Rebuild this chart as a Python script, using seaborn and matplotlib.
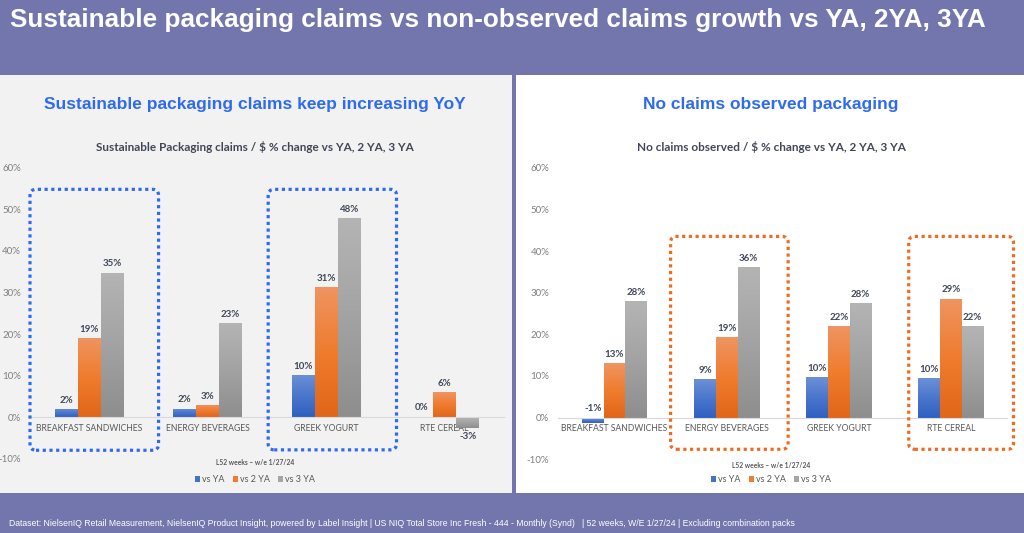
import numpy as np
import pandas as pd
import seaborn as sns
import matplotlib.pyplot as plt
from matplotlib.patches import Rectangle, FancyBboxPatch, Patch
from matplotlib.colors import LinearSegmentedColormap

# categories and series
categories = ['BREAKFAST SANDWICHES', 'ENERGY BEVERAGES', 'GREEK YOGURT', 'RTE CEREAL']
series = ['vs YA', 'vs 2 YA', 'vs 3 YA']

# Sustainable packaging claims, $ % change
sust_vs_ya = [2.0, 2.1, 10.2, 0.2]
sust_vs_2ya = [19.1, 2.9, 31.3, 6.0]
sust_vs_3ya = [34.8, 22.6, 47.9, -2.6]

# No claims observed, $ % change
none_vs_ya = [-1.2, 9.2, 9.7, 9.5]
none_vs_2ya = [13.1, 19.3, 22.0, 28.6]
none_vs_3ya = [28.0, 36.1, 27.5, 21.9]

yticks = [-10, 0, 10, 20, 30, 40, 50, 60]

PURPLE = '#7376AD'
BLUE_HEAD = '#2F6BF2'
ORANGE_BOX = '#F26A21'
LABEL = '#404858'
colors = ['#4472C4', '#ED7D31', '#A5A5A5']
grads = [['#3060C0', '#4A76CC', '#6C90D6'],
         ['#E0661A', '#F07C2E', '#EF9461'],
         ['#8E8E8E', '#A3A3A3', '#B4B4B4']]

W, H = 1024, 533

sns.set_theme(style='white')
plt.rcParams['font.family'] = ['Lato', 'DejaVu Sans']


def fx(px):
    return px / W


def fy(py):
    return 1 - py / H


fig = plt.figure(figsize=(10.24, 5.33), dpi=100, facecolor=PURPLE)

# panel backgrounds
fig.add_artist(Rectangle((0, fy(493)), fx(512), (493 - 75) / H, transform=fig.transFigure,
                         facecolor='#F2F2F2', edgecolor='none', zorder=-2))
fig.add_artist(Rectangle((fx(516), fy(493)), fx(1024 - 516), (493 - 75) / H, transform=fig.transFigure,
                         facecolor='white', edgecolor='none', zorder=-2))

fig.text(fx(10), fy(27), 'Sustainable packaging claims vs non-observed claims growth vs YA, 2YA, 3YA',
         color='white', fontsize=18.8, fontweight='bold', family=['Liberation Sans', 'DejaVu Sans'],
         va='baseline', ha='left')


def draw_panel(ax, vs_ya, vs_2ya, vs_3ya, cx, heading, subtitle, boxes, box_color, legend_y, note_y):
    df = pd.DataFrame({
        'category': categories * 3,
        'series': np.repeat(series, len(categories)),
        'value': vs_ya + vs_2ya + vs_3ya,
    })
    sns.barplot(data=df, x='category', y='value', hue='series', order=categories,
                hue_order=series, palette=colors, saturation=1, width=0.58,
                errorbar=None, legend=False, linewidth=0, ax=ax)
    ax.set_facecolor('none')

    # gradient fill + labels
    for ci, cont in enumerate(ax.containers):
        cmap = LinearSegmentedColormap.from_list(f'g{ci}', grads[ci])
        for bar, v in zip(cont.patches, df[df['series'] == series[ci]]['value']):
            x0, w = bar.get_x(), bar.get_width()
            y0, y1 = sorted([bar.get_y(), bar.get_y() + bar.get_height()])
            im = ax.imshow(np.linspace(0, 1, 64).reshape(-1, 1), cmap=cmap, origin='lower',
                           extent=[x0, x0 + w, y0, y1], aspect='auto', zorder=bar.get_zorder() + 0.1)
            im.set_clip_path(bar)
            xc = x0 + w / 2
            if v >= 0 or abs(v) < 2:
                ax.annotate(f'{v:.0f}%', (xc, max(v, 0)), xytext=(0, 3), textcoords='offset points',
                            ha='center', va='bottom', fontsize=7, fontweight='bold', color=LABEL)
            else:
                ax.annotate(f'{v:.0f}%', (xc, v), xytext=(0, -3), textcoords='offset points',
                            ha='center', va='top', fontsize=7, fontweight='bold', color=LABEL)
    ax.set_xlim(-0.5, 3.5)
    ax.set_ylim(-10, 60)

    ax.set_yticks(yticks)
    ax.set_yticklabels([f'{t}%' for t in yticks])
    ax.set_xlabel('')
    ax.set_ylabel('')
    for s in ['top', 'right', 'left']:
        ax.spines[s].set_visible(False)
    ax.spines['bottom'].set_position(('data', 0))
    ax.spines['bottom'].set_color('#D9D9D9')
    ax.spines['bottom'].set_linewidth(0.8)
    ax.tick_params(axis='y', length=0, pad=6.5, labelsize=7, labelcolor='#7F7F7F')
    ax.tick_params(axis='x', length=0, pad=4.5, labelsize=6.2, labelcolor='#595959')

    fig.text(fx(cx), fy(108.5), heading, color=BLUE_HEAD, fontsize=12.5, fontweight='bold',
             family=['Liberation Sans', 'DejaVu Sans'], ha='center', va='baseline')
    fig.text(fx(cx), fy(147), subtitle, color=LABEL, fontsize=8.5, fontweight='bold',
             ha='center', va='center')
    fig.text(fx(cx), fy(note_y), 'L52 weeks \u2013 w/e 1/27/24', color='#595959', fontsize=4.8,
             fontweight='bold', ha='center', va='center')

    handles = [Patch(facecolor=c, edgecolor='none') for c in colors]
    fig.legend(handles, series, loc='center', bbox_to_anchor=(fx(cx), fy(legend_y)), ncol=3,
               frameon=False, fontsize=6.5, labelcolor='#595959', handlelength=0.6, handleheight=0.6,
               handletextpad=0.2, columnspacing=0.9, borderpad=0)

    # dotted highlight boxes (category index, left offset, right offset, top, bottom)
    inv = fig.transFigure.inverted()
    for idx, dl, dr, top, bot in boxes:
        p0 = inv.transform(ax.transData.transform((idx + dl, bot)))
        p1 = inv.transform(ax.transData.transform((idx + dr, top)))
        box = FancyBboxPatch(p0, p1[0] - p0[0], p1[1] - p0[1],
                             boxstyle='round,pad=0,rounding_size=%f' % fx(6),
                             mutation_aspect=W / H, transform=fig.transFigure,
                             facecolor='none', edgecolor=box_color, linewidth=2.3,
                             linestyle=(0, (1, 1.1)), zorder=5)
        fig.add_artist(box)


axL = fig.add_axes([fx(30), fy(459), fx(474), (459 - 167.7) / H])
axR = fig.add_axes([fx(558.4), fy(459.3), fx(448.7), (459.3 - 167.7) / H])

draw_panel(axL, sust_vs_ya, sust_vs_2ya, sust_vs_3ya, 255,
           'Sustainable packaging claims keep increasing YoY',
           'Sustainable Packaging claims / $ % change vs YA, 2 YA, 3 YA',
           [(0, -0.5, 0.585, 54.8, -7.9), (2, -0.49, 0.593, 54.8, -7.8)], BLUE_HEAD, 479.5, 462.7)
draw_panel(axR, none_vs_ya, none_vs_2ya, none_vs_3ya, 771,
           'No claims observed packaging',
           'No claims observed / $ % change vs YA, 2 YA, 3 YA',
           [(1, -0.5, 0.548, 43.5, -7.6), (3, -0.377, 0.557, 43.5, -7.6)], ORANGE_BOX, 480, 465.7)

footer = ('Dataset: NielsenIQ Retail Measurement, NielsenIQ Product Insight, powered by Label Insight | '
          'US NIQ Total Store Inc Fresh - 444 - Monthly (Synd)   | 52 weeks, W/E 1/27/24 | '
          'Excluding combination packs')
fig.text(fx(9), fy(523), footer, color='white', fontsize=6.25,
         family=['Liberation Sans Narrow', 'Liberation Sans', 'DejaVu Sans'], ha='left', va='center')

fig.savefig('out.png', dpi=100, facecolor=PURPLE)
